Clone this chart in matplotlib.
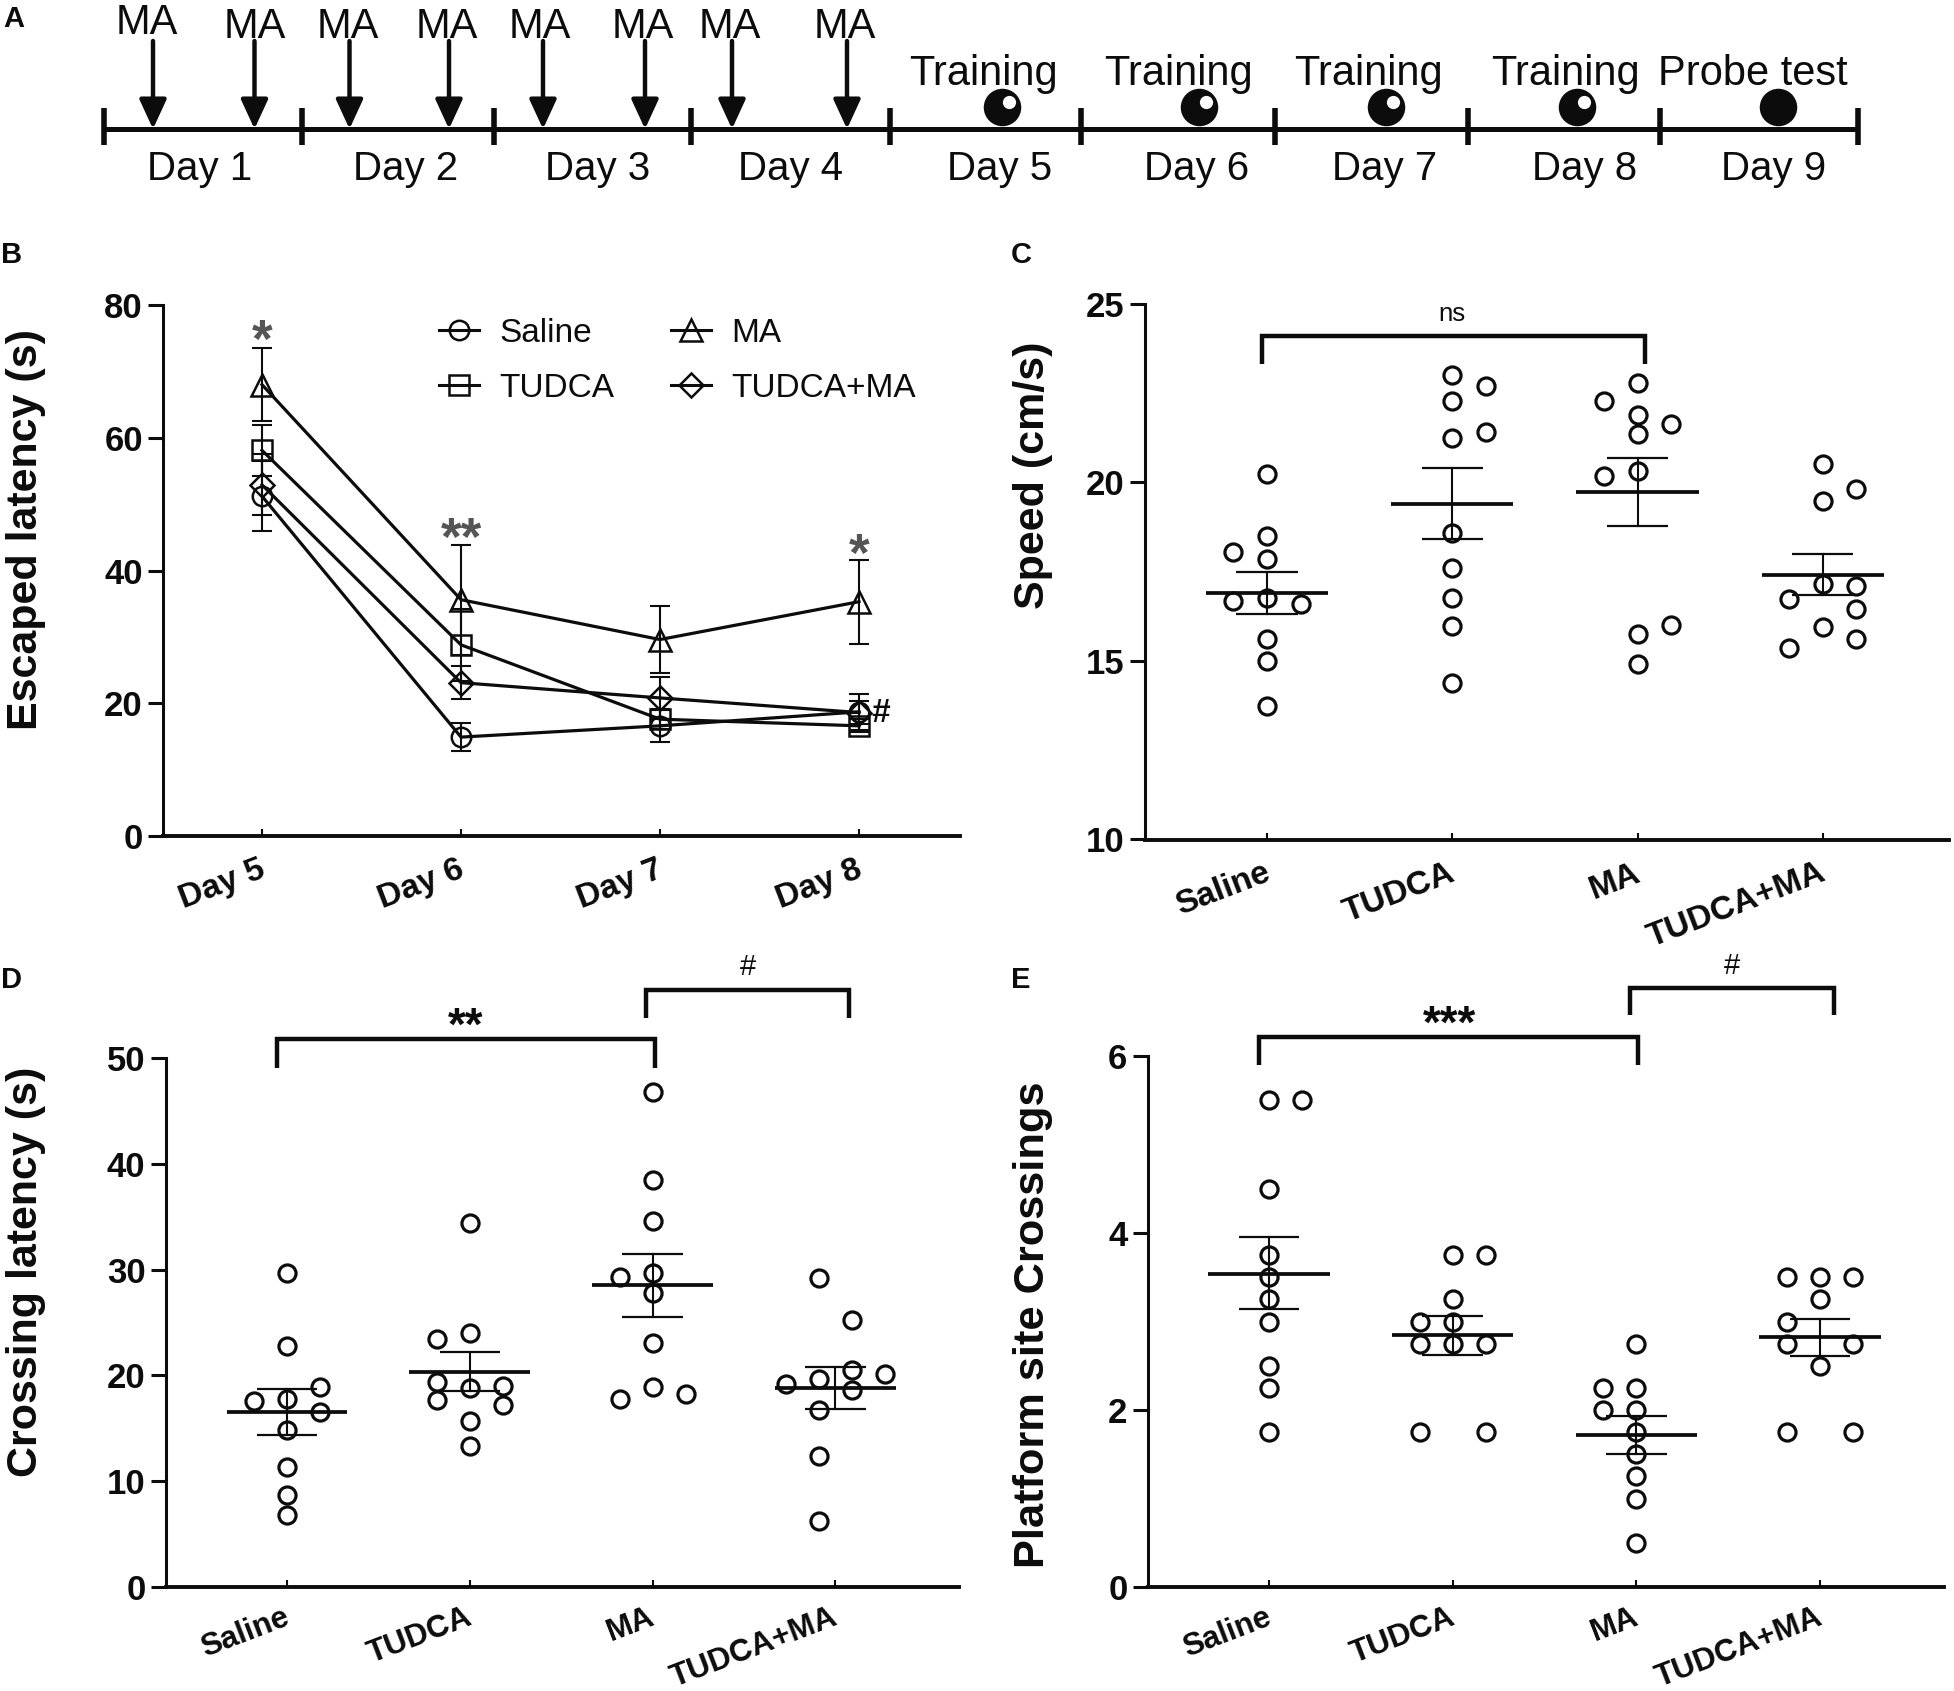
import matplotlib
matplotlib.use("Agg")
import matplotlib.pyplot as plt
from matplotlib.lines import Line2D
from matplotlib.transforms import ScaledTranslation

plt.rcParams['font.family'] = ['Liberation Sans', 'DejaVu Sans']
W, H = 1954, 1691
INK = '#0c0c0c'

# ---------- panel A ----------
a_day_labels = ['Day 1', 'Day 2', 'Day 3', 'Day 4', 'Day 5', 'Day 6', 'Day 7', 'Day 8', 'Day 9']
a_event_labels = ['Training', 'Training', 'Training', 'Training', 'Probe test']
a_dose_label = 'MA'

# ---------- panel B ----------
b_days = ['Day 5', 'Day 6', 'Day 7', 'Day 8']
b_saline = [51.2, 14.9, 16.6, 18.7]
b_saline_err = [5.3, 2.15, 2.4, 2.7]
b_tudca = [58.1, 28.8, 17.6, 16.6]
b_tudca_err = [3.8, 5.4, 1.5, 1.0]
b_ma = [68.0, 35.6, 29.6, 35.3]
b_ma_err = [5.5, 8.3, 5.0, 6.3]
b_combo = [52.9, 23.1, 20.8, 18.6]
b_combo_err = [4.6, 2.5, 3.2, 1.8]

groups = ['Saline', 'TUDCA', 'MA', 'TUDCA+MA']

# ---------- panel C ----------
c_vals = [
    [20.22, 18.5, 18.04, 17.84, 16.69, 16.77, 16.6, 15.61, 15.0, 13.74],
    [22.99, 22.69, 22.29, 21.42, 21.24, 18.59, 17.59, 16.75, 15.97, 14.37],
    [22.79, 22.29, 21.88, 21.64, 21.34, 20.17, 20.31, 16.0, 15.75, 14.9],
    [20.5, 19.8, 19.47, 17.15, 17.09, 16.73, 16.45, 15.94, 15.6, 15.36],
]
c_slots = [
    [0, 0, -1, 0, -1, 0, 1, 0, 0, 0],
    [0, 1, 0, 1, 0, 0, 0, 0, 0, 0],
    [0, -1, 0, 1, 0, -1, 0, 1, 0, 0],
    [0, 1, 0, 0, 1, -1, 1, 0, 1, -1],
]
c_mean = [16.91, 19.4, 19.72, 17.41]
c_upper = [17.5, 20.39, 20.67, 17.99]
c_lower = [16.32, 18.41, 18.78, 16.84]

# ---------- panel D ----------
d_vals = [
    [29.7, 22.8, 18.9, 17.8, 17.6, 16.5, 14.8, 11.3, 8.65, 6.8],
    [34.4, 24.0, 23.4, 19.4, 19.0, 18.8, 17.7, 17.2, 15.7, 13.3],
    [46.8, 38.5, 34.6, 29.3, 29.7, 27.8, 23.05, 18.9, 18.2, 17.8],
    [29.2, 25.2, 20.5, 20.1, 19.7, 19.2, 18.6, 16.7, 12.4, 6.25],
]
d_slots = [
    [0, 0, 1, 0, -1, 1, 0, 0, 0, 0],
    [0, 0, -1, -1, 1, 0, -1, 1, 0, 0],
    [0, 0, 0, -1, 0, 0, 0, 0, 1, -1],
    [-0.5, 0.5, 0.5, 1.5, -0.5, -1.5, 0.5, -0.5, -0.5, -0.5],
]
d_mean = [16.5, 20.3, 28.5, 18.8]
d_upper = [18.7, 22.2, 31.5, 20.8]
d_lower = [14.4, 18.5, 25.5, 16.8]

# ---------- panel E ----------
e_vals = [
    [5.5, 5.5, 4.5, 3.75, 3.5, 3.25, 3.0, 2.5, 2.25, 1.75],
    [3.75, 3.75, 3.25, 3.0, 3.0, 2.75, 2.75, 2.75, 1.75, 1.75],
    [2.75, 2.25, 2.25, 2.0, 2.0, 1.75, 1.5, 1.25, 1.0, 0.5],
    [3.5, 3.5, 3.5, 3.25, 3.0, 2.75, 2.75, 2.5, 1.75, 1.75],
]
e_slots = [
    [0, 1, 0, 0, 0, 0, 0, 0, 0, 0],
    [0, 1, 0, -1, 0, -1, 0, 1, -1, 1],
    [0, -1, 0, -1, 0, 0, 0, 0, 0, 0],
    [-1, 0, 1, 0, -1, -1, 1, 0, -1, 1],
]
e_mean = [3.54, 2.85, 1.72, 2.82]
e_upper = [3.95, 3.06, 1.93, 3.03]
e_lower = [3.14, 2.62, 1.50, 2.61]

fig = plt.figure(figsize=(W / 100, H / 100), dpi=100, facecolor='white')


def px_text(x, y, s, **kw):
    kw.setdefault('color', INK)
    return fig.text(x / W, 1 - y / H, s, **kw)


def make_axes(left, right, top, bottom, tick0, step, ylim, yticks, xlabels, xsize, pad):
    ax = fig.add_axes([left / W, 1 - bottom / H, (right - left) / W, (bottom - top) / H])
    ax.set_xlim((left - tick0) / step, (right - tick0) / step)
    ax.set_ylim(*ylim)
    ax.patch.set_alpha(0)
    for s in ('top', 'right'):
        ax.spines[s].set_visible(False)
    ax.spines['left'].set_linewidth(2.2)
    ax.spines['bottom'].set_linewidth(2.8)
    ax.spines['left'].set_color(INK)
    ax.spines['bottom'].set_color(INK)
    ax.set_yticks(yticks)
    ax.set_xticks(range(len(xlabels)))
    ax.set_xticklabels(xlabels, fontsize=xsize, fontweight='bold', rotation=21,
                       ha='right', va='top', rotation_mode='anchor', color=INK)
    ax.tick_params(axis='y', direction='out', length=10.5, width=2.2, pad=4,
                   labelsize=25, labelcolor=INK, color=INK)
    ax.tick_params(axis='x', direction='in', length=5, width=1.5, pad=pad, color=INK)
    for t in ax.get_yticklabels():
        t.set_fontweight('bold')
    shift = ScaledTranslation(-4 / 100, 0, fig.dpi_scale_trans)
    for t in ax.get_xticklabels():
        t.set_transform(t.get_transform() + shift)
    return ax


def scatter_panel(ax, vals, slots, mean, upper, lower, slot_w):
    for i in range(len(vals)):
        xs = [i + s * slot_w for s in slots[i]]
        ax.plot(xs, vals[i], ls='none', marker='o', ms=12.3, mfc='none', mec=INK, mew=2.3,
                clip_on=False, zorder=3)
        ax.plot([i - 0.33, i + 0.33], [mean[i], mean[i]], color=INK, lw=2.7, zorder=4,
                solid_capstyle='butt')
        ax.plot([i, i], [lower[i], upper[i]], color=INK, lw=1.5, zorder=4)
        for v in (upper[i], lower[i]):
            ax.plot([i - 0.165, i + 0.165], [v, v], color=INK, lw=1.6, zorder=4,
                    solid_capstyle='butt')


def bracket(ax, x0, x1, leg, top):
    ax.plot([x0, x0, x1, x1], [leg, top, top, leg], color=INK, lw=3.2, clip_on=False,
            solid_joinstyle='miter', solid_capstyle='butt')


def stars(ax, x, y, s, size, color=INK):
    # y is the visual centre of the asterisk glyph
    ax.annotate(s, (x, y), xytext=(0, -0.46 * size), textcoords='offset points', ha='center',
                va='baseline', fontsize=size, fontweight='bold', color=color, annotation_clip=False)


def label(ax, x, y, s, size, weight='normal'):
    ax.text(x, y, s, ha='center', va='center', fontsize=size, fontweight=weight, color=INK, clip_on=False)


# ---------- panel A drawing ----------
axa = fig.add_axes([0, 0, 1, 1])
axa.set_xlim(0, W)
axa.set_ylim(H, 0)
axa.axis('off')
day_edges = [104, 302, 494, 691, 890, 1081, 1275, 1468, 1660, 1858]
day_centres = [200, 406, 598, 790, 1000, 1197, 1385, 1585, 1774]
dose_x = [153, 254.5, 349.5, 449, 543, 645, 732, 847]
dose_text_x = [147, 254.5, 348, 447, 540, 643, 730, 845]
dose_text_base = [34, 38, 38, 38, 38, 38, 38, 38]
event_x = [1002, 1199, 1386, 1577, 1778]
event_text_x = [983, 1178, 1368, 1565, 1753]
event_has_glint = [True, True, True, True, False]

axa.plot([day_edges[0], day_edges[-1]], [129, 129], color=INK, lw=3.6, solid_capstyle='butt')
for x in day_edges:
    axa.plot([x, x], [108, 145], color=INK, lw=4.0, solid_capstyle='butt')
for x, lab in zip(day_centres, a_day_labels):
    axa.text(x, 180, lab, ha='center', va='baseline', fontsize=29, color=INK)
for x, tx, b in zip(dose_x, dose_text_x, dose_text_base):
    axa.annotate('', xy=(x, 129), xytext=(x, 41),
                 arrowprops=dict(arrowstyle='-|>,head_length=1.0,head_width=0.46', mutation_scale=18,
                                 lw=3.2, color=INK, shrinkA=0, shrinkB=0))
    axa.text(tx, b, a_dose_label, ha='center', va='baseline', fontsize=30, color=INK)
for x, tx, lab, g in zip(event_x, event_text_x, a_event_labels, event_has_glint):
    axa.plot([x], [107], marker='o', ms=27, color=INK, mew=0)
    if g:
        axa.plot([x + 7], [102], marker='o', ms=9.5, color='white', mew=0)
    axa.text(tx, 85, lab, ha='center', va='baseline', fontsize=30, color=INK)

# ---------- panel letters and y labels ----------
for x, y, s in [(3, 27, 'A'), (1, 263, 'B'), (1011, 263, 'C'), (1, 988, 'D'), (1011, 988, 'E')]:
    px_text(x, y, s, fontsize=21, fontweight='bold', ha='left', va='baseline')
for x, y, s, size in [(26, 530, 'Escaped latency (s)', 31), (1033, 475, 'Speed (cm/s)', 31),
                      (26, 1272, 'Crossing latency (s)', 31), (1033, 1325, 'Platform site Crossings', 31.2)]:
    px_text(x, y, s, fontsize=size, fontweight='bold', rotation=90, ha='center', va='center')

# ---------- panel B drawing ----------
axb = make_axes(163, 960, 305, 836, 262, 199, (0, 80), [0, 20, 40, 60, 80], b_days, 24, 13)
series = [('Saline', b_saline, b_saline_err, 'o', 14), ('TUDCA', b_tudca, b_tudca_err, 's', 14),
          ('MA', b_ma, b_ma_err, '^', 15.5), ('TUDCA+MA', b_combo, b_combo_err, 'D', 12)]
handles = []
for name, v, e, m, ms in series:
    axb.plot(range(4), v, color=INK, lw=2.3, zorder=2)
    axb.errorbar(range(4), v, yerr=e, fmt='none', ecolor=INK, elinewidth=1.5, capsize=7, capthick=1.5, zorder=3)
    axb.plot(range(4), v, ls='none', marker=m, ms=ms, mfc='none', mec=INK, mew=1.8, zorder=4)
    handles.append(Line2D([], [], color=INK, lw=2.2, marker=m, ms=ms, mfc='none', mec=INK, mew=1.8, label=name))
fig.legend(handles=handles, ncol=2, frameon=False, loc='upper left',
           bbox_to_anchor=(438.5 / W, 1 - 318 / H), borderpad=0, borderaxespad=0,
           prop={'size': 24}, handlelength=1.2, handletextpad=0.62, columnspacing=1.7,
           labelspacing=0.72, labelcolor=INK)
stars(axb, 0, 75.9, '*', 38, '#555555')
stars(axb, 1, 46.0, '**', 38, '#555555')
stars(axb, 3, 43.6, '*', 38, '#555555')
label(axb, 3.11, 18.5, '#', 24, 'bold')

# ---------- panel C drawing ----------
axc = make_axes(1145, 1949, 303.7, 839.5, 1267, 185.3, (10, 25), [10, 15, 20, 25], groups, 24, 13)
scatter_panel(axc, c_vals, c_slots, c_mean, c_upper, c_lower, 0.181)
bracket(axc, -0.025, 2.04, 23.31, 24.09)
label(axc, 1.0, 24.72, 'ns', 18.5)

# ---------- panel D drawing ----------
axd = make_axes(165.6, 959.5, 1058, 1587, 287, 182.8, (0, 50), [0, 10, 20, 30, 40, 50], groups, 22.5, 11)
scatter_panel(axd, d_vals, d_slots, d_mean, d_upper, d_lower, 0.18)
bracket(axd, -0.056, 2.013, 49.1, 51.8)
bracket(axd, 1.966, 3.075, 53.8, 56.4)
stars(axd, 0.98, 53.7, '**', 33)
label(axd, 2.52, 58.6, '#', 21)

# ---------- panel E drawing ----------
axe = make_axes(1147.6, 1944, 1056, 1587, 1269, 183.7, (0, 6), [0, 2, 4, 6], groups, 22.5, 11)
scatter_panel(axe, e_vals, e_slots, e_mean, e_upper, e_lower, 0.18)
bracket(axe, -0.056, 2.009, 5.9, 6.216)
bracket(axe, 1.965, 3.074, 6.46, 6.77)
stars(axe, 0.985, 6.45, '***', 33)
label(axe, 2.52, 7.02, '#', 21)

fig.savefig('out.png', dpi=100, facecolor='white')
